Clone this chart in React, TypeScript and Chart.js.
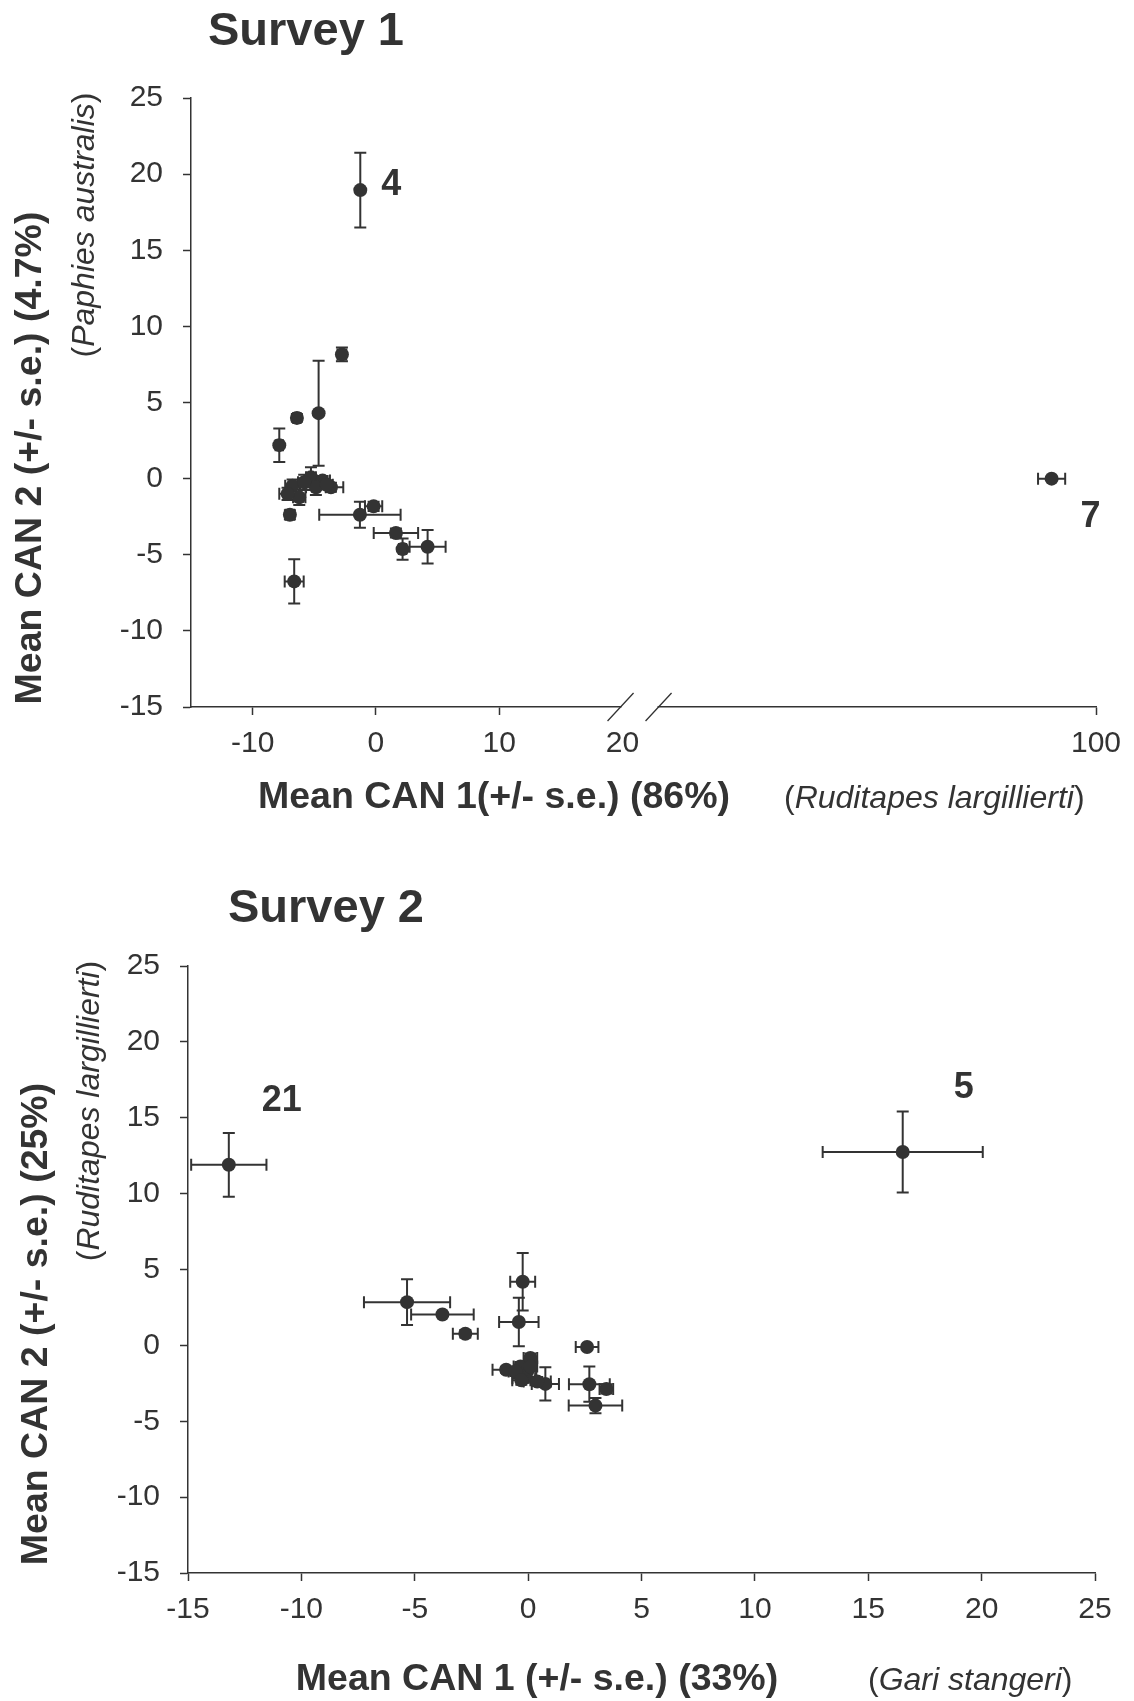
import React, { useEffect, useRef } from 'react';
import { Chart, registerables, LinearScale } from 'chart.js';

Chart.register(...registerables);

// ---------------- Survey 1 data ----------------
const S1_X = [-1.27, -2.76, -4.65, -6.41, -7.84, -6.76, -5.27, -4.33, -3.65, -6.22, -7.17, -4.87, -5.82, -4.0, -6.98, -1.3, -0.19, 1.62, 2.16, 4.19, -6.63, 96.4];
const S1_Y = [18.95, 8.16, 4.3, 3.99, 2.2, -0.46, 0.09, -0.13, -0.57, -1.23, -1.0, -0.57, -0.24, -0.4, -2.37, -2.37, -1.82, -3.57, -4.63, -4.47, -6.75, 0.0];
const S1_XERR = [0, 0.35, 0, 0.3, 0.3, 0.6, 0.4, 0.6, 1.0, 0.5, 0.67, 0.8, 0.5, 0.5, 0.35, 3.3, 0.7, 1.8, 0.3, 1.46, 0.77, 1.1];
const S1_YERR = [2.45, 0.45, 3.45, 0.25, 1.1, 0.4, 0.65, 0.3, 0.3, 0.5, 0.4, 0.5, 0.5, 0.3, 0.3, 0.85, 0.3, 0.3, 0.7, 1.1, 1.45, 0];
const S1_X_TICKS = [-10, 0, 10, 20, 100];
const S1_Y_MIN = -15;
const S1_Y_MAX = 25;
const S1_X_MIN = -15;
const S1_X_MAX = 100;
const S1_POINT_LABELS = ['4', '7'];
const S1_POINT_LABEL_INDEX = [0, 21];

// broken x axis of survey 1: values above 20 are shifted left
const X_BREAK_AT = 20;
const X_BREAK_SHIFT = 41.6;

// ---------------- Survey 2 data ----------------
const S2_X = [-13.2, 16.52, -5.34, -3.78, -2.77, -0.24, -0.41, 2.6, 2.7, 3.45, 2.97, 0.76, -0.97, 0.1, -0.04, -0.34, -0.19, 0.4, -0.56, 0.1, -0.3];
const S2_Y = [11.9, 12.74, 2.85, 2.03, 0.77, 4.19, 1.54, -0.11, -2.56, -2.87, -3.97, -2.54, -1.61, -0.84, -1.72, -1.39, -2.17, -2.38, -1.72, -1.39, -2.3];
const S2_XERR = [1.66, 3.53, 1.9, 1.38, 0.55, 0.55, 0.87, 0.5, 0.9, 0.3, 1.18, 0.6, 0.6, 0.3, 0.4, 0.3, 0.5, 0.6, 0.3, 0.3, 0.4];
const S2_YERR = [2.1, 2.67, 1.5, 0, 0.25, 1.9, 1.6, 0, 1.16, 0.3, 0.5, 1.1, 0.2, 0.3, 0.4, 0.3, 0.3, 0.3, 0.3, 0.3, 0.3];
const S2_X_MIN = -15;
const S2_X_MAX = 25;
const S2_Y_MIN = -15;
const S2_Y_MAX = 25;
const S2_POINT_LABELS = ['21', '5'];
const S2_POINT_LABEL_INDEX = [0, 1];

const TICK_STEP = 5;

// ---------------- styles ----------------
const INK = '#333333';
const FONT = '"Liberation Sans", Arial, Helvetica, sans-serif';

class BrokenLinearScale extends LinearScale {
  static id = 'brokenLinear';
  static defaults = LinearScale.defaults;
  toT(v: number) {
    return v > X_BREAK_AT ? v - X_BREAK_SHIFT : v;
  }
  getPixelForValue(value: number) {
    const lo = this.min;
    const hi = this.toT(this.max);
    return this.getPixelForDecimal((this.toT(value) - lo) / (hi - lo));
  }
  getValueForPixel(pixel: number) {
    const lo = this.min;
    const hi = this.toT(this.max);
    const t = lo + this.getDecimalForPixel(pixel) * (hi - lo);
    return t > X_BREAK_AT ? t + X_BREAK_SHIFT : t;
  }
}
Chart.register(BrokenLinearScale as any);

type Seg = { t: string; f: string };

function drawSegs(ctx: CanvasRenderingContext2D, segs: Seg[], x: number, y: number, align: 'left' | 'center') {
  ctx.textAlign = 'left';
  ctx.textBaseline = 'alphabetic';
  let total = 0;
  const widths = segs.map((s) => {
    ctx.font = s.f;
    const w = ctx.measureText(s.t).width;
    total += w;
    return w;
  });
  let cx = align === 'center' ? x - total / 2 : x;
  segs.forEach((s, i) => {
    ctx.font = s.f;
    ctx.fillText(s.t, cx, y);
    cx += widths[i];
  });
}

function drawRotated(ctx: CanvasRenderingContext2D, segs: Seg[], x: number, y: number) {
  ctx.save();
  ctx.translate(x, y);
  ctx.rotate(-Math.PI / 2);
  drawSegs(ctx, segs, 0, 0, 'center');
  ctx.restore();
}

const bold = (s: number) => `bold ${s}px ${FONT}`;
const reg = (s: number) => `${s}px ${FONT}`;
const ital = (s: number) => `italic ${s}px ${FONT}`;

const TITLE_SIZE = 47;
const AXIS_TITLE_SIZE = 37.5;
const SPECIES_SIZE = 32;
const POINT_LABEL_SIZE = 36;

function errorBarPlugin(xErr: number[], yErr: number[]) {
  return {
    id: 'errorBars',
    beforeDatasetsDraw(chart: any) {
      const data = chart.data.datasets[0].data as { x: number; y: number }[];
      const xs = chart.scales.x;
      const ys = chart.scales.y;
      const ctx: CanvasRenderingContext2D = chart.ctx;
      const CAP = 6;
      ctx.save();
      ctx.strokeStyle = INK;
      ctx.lineWidth = 2;
      data.forEach((p, i) => {
        const cx = xs.getPixelForValue(p.x);
        const cy = ys.getPixelForValue(p.y);
        if (xErr[i] > 0) {
          const l = xs.getPixelForValue(p.x - xErr[i]);
          const r = xs.getPixelForValue(p.x + xErr[i]);
          ctx.beginPath();
          ctx.moveTo(l, cy); ctx.lineTo(r, cy);
          ctx.moveTo(l, cy - CAP); ctx.lineTo(l, cy + CAP);
          ctx.moveTo(r, cy - CAP); ctx.lineTo(r, cy + CAP);
          ctx.stroke();
        }
        if (yErr[i] > 0) {
          const t = ys.getPixelForValue(p.y + yErr[i]);
          const b = ys.getPixelForValue(p.y - yErr[i]);
          ctx.beginPath();
          ctx.moveTo(cx, t); ctx.lineTo(cx, b);
          ctx.moveTo(cx - CAP, t); ctx.lineTo(cx + CAP, t);
          ctx.moveTo(cx - CAP, b); ctx.lineTo(cx + CAP, b);
          ctx.stroke();
        }
      });
      ctx.restore();
    },
  };
}

function axisScale(min: number, max: number, fitWidth?: number, fitHeight?: number, extra: any = {}) {
  return {
    type: 'linear',
    min,
    max,
    ticks: {
      stepSize: TICK_STEP,
      color: INK,
      font: { family: FONT, size: 30 },
      padding: 11,
      autoSkip: false,
      maxRotation: 0,
    },
    grid: {
      display: true,
      drawOnChartArea: false,
      drawTicks: true,
      tickLength: 8,
      tickWidth: 1.5,
      color: INK,
    },
    border: { display: true, color: INK, width: 1.5 },
    afterFit: (s: any) => {
      if (fitWidth !== undefined) s.width = fitWidth;
      if (fitHeight !== undefined) s.height = fitHeight;
    },
    ...extra,
  };
}

function config1(): any {
  const pts = S1_X.map((x, i) => ({ x, y: S1_Y[i] }));
  const xScale = axisScale(S1_X_MIN, S1_X_MAX, undefined, 143, {
    type: 'brokenLinear',
    afterBuildTicks: (s: any) => {
      s.ticks = S1_X_TICKS.map((v) => ({ value: v }));
    },
  });
  xScale.grid = {
    ...xScale.grid,
    tickColor: (c: any) => (c.tick && c.tick.value === X_BREAK_AT ? 'rgba(0,0,0,0)' : INK),
  };
  xScale.ticks = { ...xScale.ticks, callback: (v: any) => String(v) };
  const yScale = axisScale(S1_Y_MIN, S1_Y_MAX, 191, undefined);
  yScale.ticks = { ...yScale.ticks, padding: 20 };
  return {
    type: 'scatter',
    data: {
      datasets: [
        {
          data: pts,
          pointRadius: 7,
          pointHoverRadius: 7,
          backgroundColor: INK,
          borderWidth: 0,
        },
      ],
    },
    options: {
      responsive: false,
      devicePixelRatio: 1,
      animation: false,
      events: [],
      layout: { padding: { top: 98, right: 38, left: 0, bottom: 0 } },
      plugins: { legend: { display: false }, tooltip: { enabled: false }, title: { display: false } },
      scales: { x: xScale, y: yScale },
    },
    plugins: [
      errorBarPlugin(S1_XERR, S1_YERR),
      {
        id: 'texts1',
        afterDraw(chart: any) {
          const ctx: CanvasRenderingContext2D = chart.ctx;
          const xs = chart.scales.x;
          const ys = chart.scales.y;
          ctx.save();
          // axis break
          const bx1 = xs.getPixelForValue(X_BREAK_AT) - 2;
          const bx2 = bx1 + 38;
          const by = chart.chartArea.bottom;
          ctx.fillStyle = '#ffffff';
          ctx.fillRect(bx1 + 1, by - 3, bx2 - bx1 - 2, 6);
          ctx.strokeStyle = INK;
          ctx.lineWidth = 1.3;
          ctx.beginPath();
          ctx.moveTo(bx1 - 13, by + 14); ctx.lineTo(bx1 + 13, by - 14);
          ctx.moveTo(bx2 - 13, by + 14); ctx.lineTo(bx2 + 13, by - 14);
          ctx.stroke();

          ctx.fillStyle = INK;
          drawSegs(ctx, [{ t: 'Survey 1', f: bold(TITLE_SIZE) }], 208, 45, 'left');
          drawSegs(ctx, [{ t: 'Mean CAN 1(+/- s.e.) (86%)', f: bold(AXIS_TITLE_SIZE) }], 494, 808, 'center');
          drawSegs(ctx, [
            { t: '(', f: reg(SPECIES_SIZE) },
            { t: 'Ruditapes largillierti', f: ital(SPECIES_SIZE) },
            { t: ')', f: reg(SPECIES_SIZE) },
          ], 784, 808, 'left');
          drawRotated(ctx, [{ t: 'Mean CAN 2 (+/- s.e.) (4.7%)', f: bold(AXIS_TITLE_SIZE) }], 41, 458);
          drawRotated(ctx, [
            { t: '(', f: reg(SPECIES_SIZE) },
            { t: 'Paphies australis', f: ital(SPECIES_SIZE) },
            { t: ')', f: reg(SPECIES_SIZE) },
          ], 94, 225);
          // point labels
          const offs = [[21, 5], [29, 48]];
          S1_POINT_LABELS.forEach((lab, k) => {
            const i = S1_POINT_LABEL_INDEX[k];
            const px = xs.getPixelForValue(S1_X[i]);
            const py = ys.getPixelForValue(S1_Y[i]);
            drawSegs(ctx, [{ t: lab, f: bold(POINT_LABEL_SIZE) }], px + offs[k][0], py + offs[k][1], 'left');
          });
          ctx.restore();
        },
      },
    ],
  };
}

function config2(): any {
  const pts = S2_X.map((x, i) => ({ x, y: S2_Y[i] }));
  const xScale = axisScale(S2_X_MIN, S2_X_MAX, undefined, 128);
  const yScale = axisScale(S2_Y_MIN, S2_Y_MAX, 188, undefined);
  yScale.ticks = { ...yScale.ticks, padding: 20 };
  return {
    type: 'scatter',
    data: {
      datasets: [
        {
          data: pts,
          pointRadius: 7,
          pointHoverRadius: 7,
          backgroundColor: INK,
          borderWidth: 0,
        },
      ],
    },
    options: {
      responsive: false,
      devicePixelRatio: 1,
      animation: false,
      events: [],
      layout: { padding: { top: 116, right: 39, left: 0, bottom: 0 } },
      plugins: { legend: { display: false }, tooltip: { enabled: false }, title: { display: false } },
      scales: { x: xScale, y: yScale },
    },
    plugins: [
      errorBarPlugin(S2_XERR, S2_YERR),
      {
        id: 'texts2',
        afterDraw(chart: any) {
          const ctx: CanvasRenderingContext2D = chart.ctx;
          const xs = chart.scales.x;
          const ys = chart.scales.y;
          ctx.save();
          ctx.fillStyle = INK;
          drawSegs(ctx, [{ t: 'Survey 2', f: bold(TITLE_SIZE) }], 228, 72, 'left');
          drawSegs(ctx, [{ t: 'Mean CAN 1 (+/- s.e.) (33%)', f: bold(AXIS_TITLE_SIZE) }], 537, 840, 'center');
          drawSegs(ctx, [
            { t: '(', f: reg(SPECIES_SIZE) },
            { t: 'Gari stangeri', f: ital(SPECIES_SIZE) },
            { t: ')', f: reg(SPECIES_SIZE) },
          ], 868, 840, 'left');
          drawRotated(ctx, [{ t: 'Mean CAN 2 (+/- s.e.) (25%)', f: bold(AXIS_TITLE_SIZE) }], 47, 474);
          drawRotated(ctx, [
            { t: '(', f: reg(SPECIES_SIZE) },
            { t: 'Ruditapes largillierti', f: ital(SPECIES_SIZE) },
            { t: ')', f: reg(SPECIES_SIZE) },
          ], 99, 261);
          const offs = [[33, -54], [51, -54]];
          S2_POINT_LABELS.forEach((lab, k) => {
            const i = S2_POINT_LABEL_INDEX[k];
            const px = xs.getPixelForValue(S2_X[i]);
            const py = ys.getPixelForValue(S2_Y[i]);
            drawSegs(ctx, [{ t: lab, f: bold(POINT_LABEL_SIZE) }], px + offs[k][0], py + offs[k][1], 'left');
          });
          ctx.restore();
        },
      },
    ],
  };
}

function ChartCanvas({ makeConfig, top, height }: { makeConfig: () => any; top: number; height: number }) {
  const ref = useRef<HTMLCanvasElement>(null);
  useEffect(() => {
    const chart = new Chart(ref.current as HTMLCanvasElement, makeConfig());
    return () => chart.destroy();
  }, []);
  return (
    <div style={{ position: 'absolute', left: 0, top, width: 1134, height }}>
      <canvas ref={ref} width={1134} height={height} style={{ display: 'block', width: 1134, height }} />
    </div>
  );
}

export default function App() {
  return (
    <div style={{ position: 'absolute', left: 0, top: 0, width: 1134, height: 1701, background: '#ffffff', overflow: 'hidden' }}>
      <ChartCanvas makeConfig={config1} top={0} height={850} />
      <ChartCanvas makeConfig={config2} top={850} height={851} />
    </div>
  );
}
